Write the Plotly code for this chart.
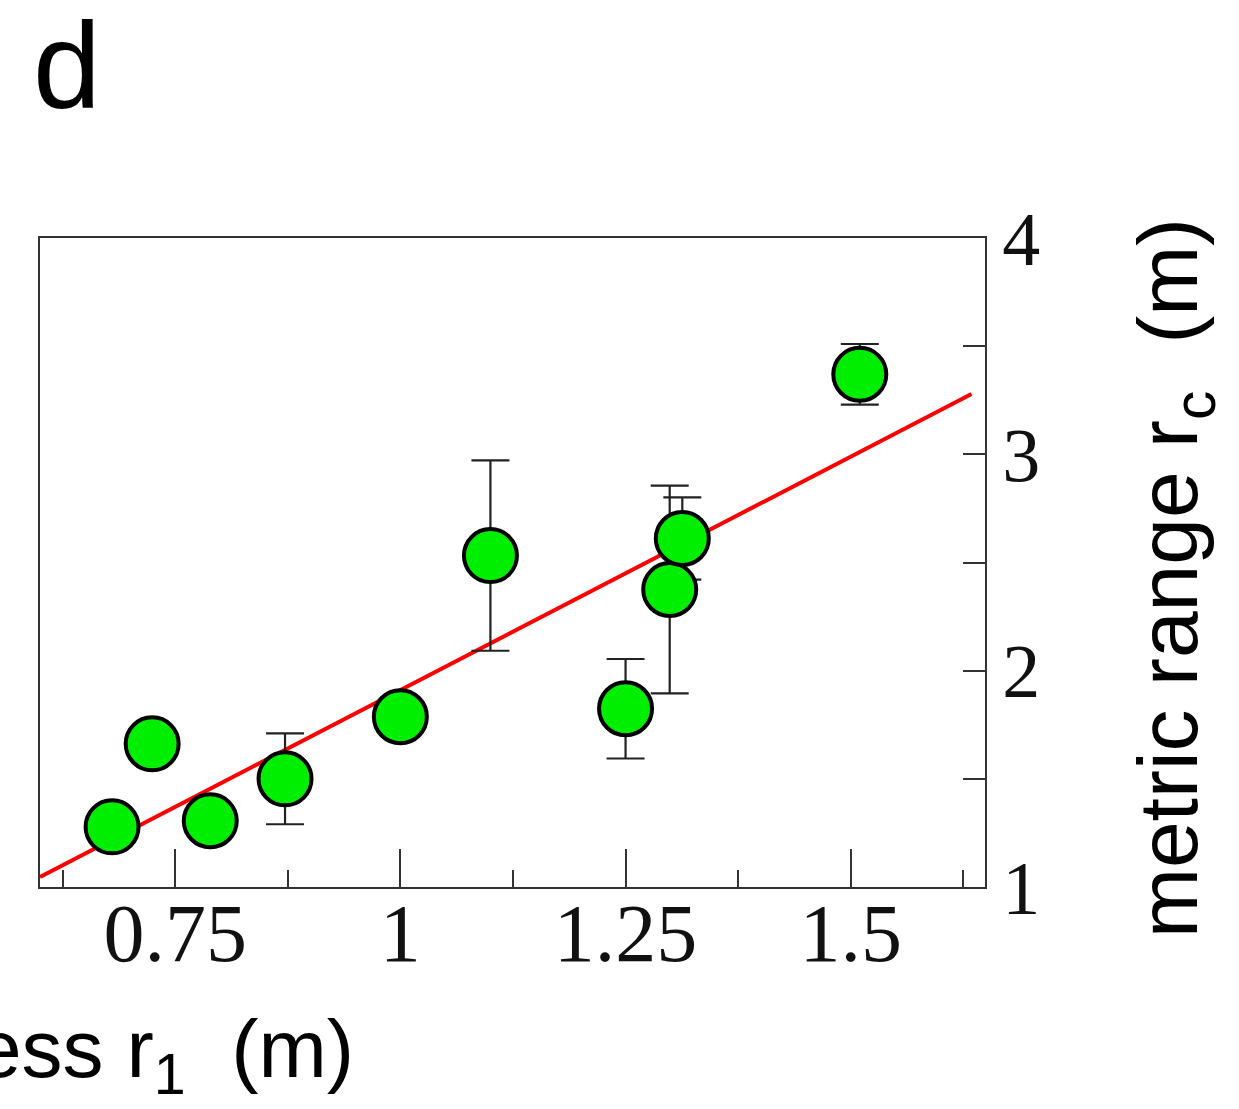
import plotly.graph_objects as go

# data
x_vals = [0.680, 0.7245, 0.789, 0.872, 1.000, 1.100, 1.250, 1.299, 1.313, 1.510]
y_vals = [1.278, 1.662, 1.306, 1.500, 1.787, 2.532, 1.824, 2.375, 2.611, 3.370]
y_err = [0.0, 0.0, 0.0, 0.21, 0.0, 0.44, 0.23, 0.48, 0.19, 0.14]
fit_x = [0.60, 1.634]
fit_slope = 2.159
fit_intercept = -0.249
fit_y = [fit_slope * v + fit_intercept for v in fit_x]

x_tickvals = [0.75, 1.0, 1.25, 1.5]
x_ticktext = ["0.75", "1", "1.25", "1.5"]
y_tickvals = [1, 2, 3, 4]
y_ticktext = ["1", "2", "3", "4"]

fig = go.Figure()
fig.add_trace(go.Scatter(
    x=fit_x, y=fit_y, mode="lines",
    line=dict(color="#ff0000", width=4), showlegend=False, hoverinfo="skip"))
fig.add_trace(go.Scatter(
    x=x_vals, y=y_vals, mode="markers",
    marker=dict(size=53, color="#00ee00", line=dict(color="black", width=4)),
    error_y=dict(type="data", array=y_err, visible=True, color="#222222",
                 thickness=2.2, width=19),
    showlegend=False))

serif = "Liberation Serif, Times New Roman, serif"
sans = "Liberation Sans, Arial, Helvetica, sans-serif"

fig.update_layout(
    width=1239, height=1109,
    margin=dict(l=40, r=254, t=238, b=222),
    paper_bgcolor="white", plot_bgcolor="white",
    xaxis=dict(
        range=[0.6, 1.649], tickvals=x_tickvals, ticktext=x_ticktext,
        ticks="inside", ticklen=38, tickwidth=2, tickcolor="#333333",
        showline=True, linecolor="#333333", linewidth=2, mirror=True,
        showgrid=False, zeroline=False, ticklabelstandoff=-26,
        tickfont=dict(family=serif, size=82, color="#111111"),
        minor=dict(tickvals=[0.625, 0.875, 1.125, 1.375, 1.625], ticks="inside",
                   ticklen=17, tickwidth=2, tickcolor="#333333", showgrid=False),
    ),
    yaxis=dict(
        range=[1, 4], side="right", tickvals=y_tickvals, ticktext=y_ticktext,
        ticks="inside", ticklen=22, tickwidth=2, tickcolor="#333333",
        showline=True, linecolor="#333333", linewidth=2, mirror=True,
        showgrid=False, zeroline=False,
        tickfont=dict(family=serif, size=76, color="#111111"),
        minor=dict(tickvals=[1.5, 2.5, 3.5], ticks="inside",
                   ticklen=22, tickwidth=2, tickcolor="#333333", showgrid=False),
    ),
    annotations=[
        dict(text="d", xref="paper", yref="paper", x=-0.01, y=1.265,
             xanchor="left", yanchor="middle", showarrow=False,
             font=dict(family=sans, size=122, color="black")),
        dict(text="ess r<sub>1</sub>  (m)", xref="paper", yref="paper",
             x=0.334, y=-0.176, xanchor="right", yanchor="top", showarrow=False,
             font=dict(family=sans, size=82, color="black")),
        dict(text="metric range r<sub>c</sub>  (m)", xref="paper", yref="paper",
             x=1.2, y=0.476, xanchor="center", yanchor="middle", textangle=-90,
             showarrow=False, font=dict(family=sans, size=84, color="black")),
    ],
)

fig.write_html("out.html")
